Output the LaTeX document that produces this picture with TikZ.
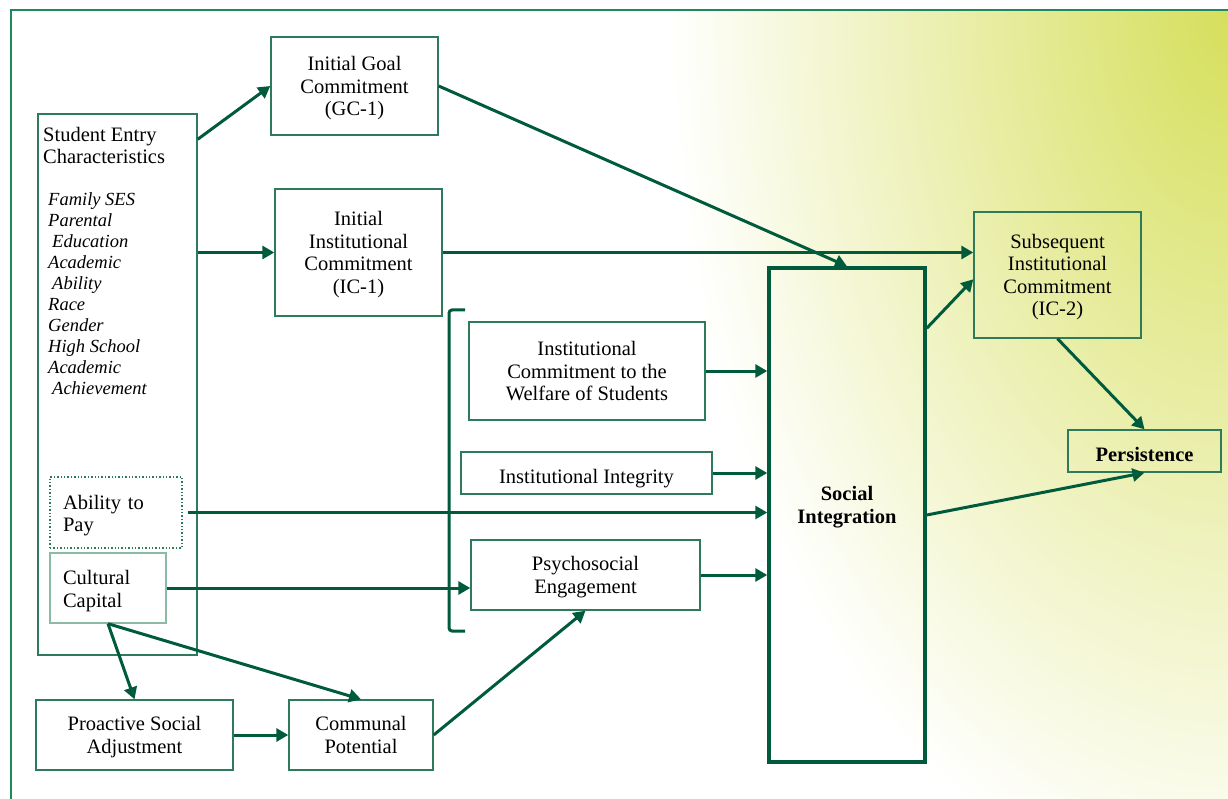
\documentclass[tikz,border=0pt]{standalone}
\usepackage{fontspec}
\setmainfont{Liberation Serif}
\usetikzlibrary{arrows.meta,calc,positioning}
\definecolor{framegreen}{RGB}{30,138,92}
\definecolor{boxgreen}{RGB}{46,122,90}
\definecolor{arrowgreen}{RGB}{0,90,60}
\definecolor{palegreen}{RGB}{140,186,164}
\definecolor{glowyellow}{RGB}{214,223,92}
\pgfdeclareradialshading{cornerglow}{\pgfpoint{0bp}{0bp}}{color(0bp)=(glowyellow); color(25bp)=(white); color(50bp)=(white)}

\begin{document}
\begin{tikzpicture}[x=1pt, y=-1pt,
    box/.style={draw=boxgreen, line width=1.4pt, align=center, inner sep=0pt,
      text depth=0pt, execute at begin node={\rule{0pt}{20.5pt}},
      font=\fontsize{20.5}{22.5}\selectfont},
    sidebox/.style={draw=boxgreen, line width=1.4pt, align=left, inner sep=0pt, inner xsep=13pt,
      execute at begin node={\rule{0pt}{20pt}},
      font=\fontsize{20.5}{22.5}\selectfont},
    flow/.style={-{Triangle[length=12pt,width=13pt]}, line width=3pt, arrowgreen}]

  \useasboundingbox (0,0) rectangle (1228,799);

  % Background glow and frame
  \begin{scope}
    \clip (11,10) rectangle (1228,799);
    \shade[shading=cornerglow] (1228,10) ellipse [x radius=560, y radius=900];
  \end{scope}
  \draw[framegreen, line width=1.5pt] (11,799) -- (11,10) -- (1228,10);

  % Entry characteristics
  \node[box, minimum width=159pt, minimum height=541pt] (entry) at (117.5,384.5) {};
  \node[anchor=north west, inner sep=0pt, align=left,
    font=\fontsize{20.5}{22}\selectfont] (entryhead) at (43,127) {Student Entry\\Characteristics};
  \node[anchor=north west, inner sep=0pt, align=left,
    font=\fontsize{18.5}{21}\selectfont\itshape] (entrylist) at (48,192)
    {Family SES\\Parental\\\hspace*{4pt}Education\\Academic\\\hspace*{4pt}Ability\\Race\\Gender\\High School\\Academic\\\hspace*{4pt}Achievement};
  \node[sidebox, dotted, text width=106pt, minimum height=71pt] (pay) at (116,512.5) {Ability to\\Pay};
  \node[sidebox, draw=palegreen, text width=90pt, minimum height=70pt] (cc) at (108,588) {Cultural\\Capital};

  % Commitments
  \node[box, minimum width=167pt, minimum height=98pt] (gc1) at (354.5,86) {Initial Goal\\Commitment\\(GC-1)};
  \node[box, minimum width=167pt, minimum height=127pt] (ic1) at (358.5,252.5) {Initial\\Institutional\\Commitment\\(IC-1)};
  \node[box, minimum width=167pt, minimum height=126pt] (ic2) at (1057.5,275) {Subsequent\\Institutional\\Commitment\\(IC-2)};

  % Institutional side
  \node[box, minimum width=236pt, minimum height=98pt] (icw) at (587,371) {Institutional\\Commitment to the\\Welfare of Students};
  \node[box, minimum width=251pt, minimum height=42pt] (ii) at (586.5,473) {Institutional Integrity};
  \node[box, minimum width=229pt, minimum height=70pt] (pe) at (585.5,575) {Psychosocial\\Engagement};
  \draw[arrowgreen, line width=3pt, rounded corners=3pt] (465,310) -- (449,310) -- (449,631) -- (465,631);

  % Social integration and outcome
  \node[box, draw=arrowgreen, line width=3.5pt, minimum width=156pt, minimum height=494pt] (si) at (847,515) {};
  \node[font=\fontsize{20.5}{22.5}\selectfont\bfseries, align=center] (silabel) at (847,507) {Social\\Integration};
  \node[box, font=\fontsize{20.5}{22.5}\selectfont\bfseries, execute at begin node={\rule{0pt}{16pt}},
    minimum width=153pt, minimum height=42pt] (persist) at (1144.5,451) {Persistence};

  % Bottom row
  \node[box, minimum width=197pt, minimum height=70pt] (psa) at (134.5,735) {Proactive Social\\Adjustment};
  \node[box, minimum width=144pt, minimum height=70pt] (cp) at (361,735) {Communal\\Potential};

  % Arrows
  \path[flow]
    ([yshift=-26pt]entry.north east) edge (gc1.west)
    (entry.east |- ic1.west) edge (ic1.west)
    (gc1.east) edge (si.north)
    (ic1.east) edge (ic1.east -| ic2.west)
    ([yshift=-62pt]si.north east) edge ([yshift=-68pt]ic2.north west)
    (ic2.south) edge (persist.north)
    (si.east) edge (persist.south)
    (icw.east) edge (icw.east -| si.west)
    (ii.east) edge (ii.east -| si.west)
    ([xshift=5pt]pay.east) edge (pay.east -| si.west)
    (cc.east) edge (cc.east -| pe.west)
    (pe.east) edge (pe.east -| si.west)
    (cc.south) edge (psa.north)
    (cc.south) edge (cp.north)
    (psa.east) edge (cp.west)
    (cp.east) edge (pe.south);

\end{tikzpicture}
\end{document}
